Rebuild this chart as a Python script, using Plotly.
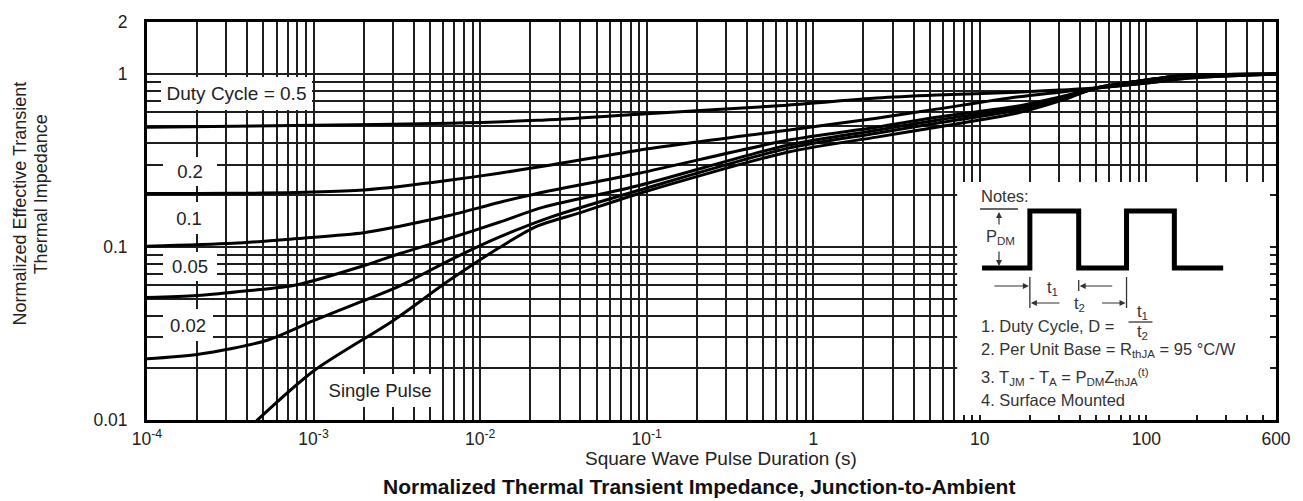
import numpy as np
import plotly.graph_objects as go

# ---------------- data ----------------
t_d05 = [1e-4, 1e-3, 6.5e-3, 2.2e-2, 9e-2, 0.7, 2.4, 5.5, 16.6, 30, 50, 100, 180, 300, 600]
z_d05 = [0.493, 0.506, 0.52, 0.54, 0.586, 0.661, 0.726, 0.756, 0.786, 0.808, 0.83, 0.887, 0.948, 0.974, 1.0]

t_d02 = [1e-4, 2e-4, 5e-4, 1e-3, 2e-3, 3.3e-3, 6.5e-3, 1.3e-2, 2.6e-2, 9e-2, 0.7, 2.4, 5.5, 16.6, 30, 50, 100, 180, 300, 600]
z_d02 = [0.204, 0.204, 0.205, 0.208, 0.214, 0.224, 0.243, 0.267, 0.297, 0.363, 0.474, 0.556, 0.627, 0.736, 0.786, 0.83, 0.887, 0.948, 0.974, 1.0]

t_d01 = [1e-4, 3.3e-4, 8e-4, 2e-3, 3.3e-3, 6.5e-3, 1.3e-2, 2.2e-2, 9e-2, 0.7, 2.4, 5.5, 16.6, 30, 50, 100, 180, 300, 600]
z_d01 = [0.101, 0.105, 0.112, 0.121, 0.132, 0.152, 0.181, 0.204, 0.267, 0.414, 0.493, 0.563, 0.652, 0.736, 0.83, 0.923, 0.987, 0.995, 1.0]

t_d005 = [1e-4, 2e-4, 4e-4, 8e-4, 2e-3, 3.3e-3, 6.5e-3, 1.3e-2, 2.4e-2, 9e-2, 0.7, 2.4, 5.5, 16.6, 30, 50, 100, 180, 300, 600]
z_d005 = [0.051, 0.0524, 0.0558, 0.0606, 0.078, 0.0917, 0.112, 0.139, 0.17, 0.227, 0.388, 0.474, 0.541, 0.635, 0.716, 0.83, 0.923, 0.987, 0.995, 1.0]

t_d002 = [1e-4, 2e-4, 5.2e-4, 1e-3, 2e-3, 3.3e-3, 6.5e-3, 1.3e-2, 2.6e-2, 9e-2, 0.7, 2.4, 5.5, 16.6, 30, 50, 100, 180, 300, 600]
z_d002 = [0.0226, 0.0239, 0.0288, 0.0375, 0.049, 0.0597, 0.0835, 0.114, 0.148, 0.213, 0.372, 0.455, 0.52, 0.618, 0.707, 0.83, 0.923, 0.987, 0.995, 1.0]

t_single = [4.5e-4, 1e-3, 3e-3, 6.5e-3, 1.3e-2, 2.2e-2, 4e-2, 9e-2, 0.7, 2.4, 5.5, 16.6, 30, 50, 100, 180, 300, 600]
z_single = [0.0098, 0.0192, 0.0375, 0.064, 0.099, 0.132, 0.158, 0.204, 0.353, 0.432, 0.493, 0.594, 0.697, 0.83, 0.923, 0.987, 0.995, 1.0]

series = [(t_d05, z_d05), (t_d02, z_d02), (t_d01, z_d01),
          (t_d005, z_d005), (t_d002, z_d002), (t_single, z_single)]

x_major = [1e-4, 1e-3, 1e-2, 1e-1, 1, 10, 100, 600]
x_major_labels = ["10<sup>-4</sup>", "10<sup>-3</sup>", "10<sup>-2</sup>", "10<sup>-1</sup>",
                  "1", "10", "100", "600"]
y_major = [0.01, 0.1, 1, 2]
y_major_labels = ["0.01", "0.1", "1", "2"]

curve_labels = ["Duty Cycle = 0.5", "0.2", "0.1", "0.05", "0.02", "Single Pulse"]

# ---------------- grid tick positions ----------------
x_grid = [k * 10.0 ** n for n in range(-4, 2) for k in range(1, 10)] + [100, 200, 300, 400, 500, 600]
x_text = []
for v in x_grid:
    lab = ""
    for mv, ml in zip(x_major, x_major_labels):
        if abs(v - mv) / mv < 1e-9:
            lab = ml
    x_text.append(lab)

y_grid = [k * 10.0 ** n for n in (-2, -1) for k in range(1, 10)] + [1, 2]
y_text = []
for v in y_grid:
    lab = ""
    for mv, ml in zip(y_major, y_major_labels):
        if abs(v - mv) / mv < 1e-9:
            lab = ml
    y_text.append(lab)

FONT = "Liberation Sans, Arial, Helvetica, sans-serif"
TXT = "#222"

fig = go.Figure()
for t, z in series:
    fig.add_trace(go.Scatter(x=t, y=z, mode="lines",
                             line=dict(color="black", width=3, shape="spline", smoothing=0.8),
                             hoverinfo="skip", showlegend=False))

# plot area in pixels
L, R, T, B = 147, 1280, 22, 420
W, H = 1303, 501


def px(x):
    return (x - L) / (R - L)


def py(y):
    return (B - y) / (B - T)


fig.update_layout(
    width=W, height=H,
    margin=dict(l=L, r=W - R, t=T, b=H - B),
    paper_bgcolor="white", plot_bgcolor="white",
    font=dict(family=FONT, color=TXT),
    showlegend=False,
)
fig.update_xaxes(type="log", range=[-4, np.log10(600)], tickmode="array",
                 tickvals=x_grid, ticktext=x_text, showgrid=True,
                 gridcolor="#1e1e1e", gridwidth=1.6, showline=True, linecolor="black",
                 linewidth=3, mirror=True, ticks="", zeroline=False,
                 tickfont=dict(size=17.5, color=TXT, family=FONT), ticklabelstandoff=1)
fig.update_yaxes(type="log", range=[-2, np.log10(2)], tickmode="array",
                 tickvals=y_grid, ticktext=y_text, showgrid=True,
                 gridcolor="#1e1e1e", gridwidth=1.6, showline=True, linecolor="black",
                 linewidth=3, mirror=True, ticks="", zeroline=False,
                 tickfont=dict(size=17.5, color=TXT, family=FONT), ticklabelstandoff=13)

ann = []
# curve labels with white boxes (center px, center py, box w, box h, font size)
label_boxes = [(236.5, 93.5, 151, 33, 19), (190, 171.5, 54, 29, 18.5), (189, 218, 52, 32, 18.5),
               (190, 266.5, 54, 29, 18.5), (188, 325, 50, 32, 18.5), (381, 390.5, 118, 33, 18.5)]
for text, (cx, cy, bw, bh, fs) in zip(curve_labels, label_boxes):
    ann.append(dict(text=text, x=px(cx), y=py(cy), xref="paper", yref="paper",
                    xanchor="center", yanchor="middle", showarrow=False,
                    bgcolor="white", width=bw, height=bh, borderpad=0, borderwidth=0,
                    font=dict(size=fs, color=TXT, family=FONT)))

# axis titles
ann.append(dict(text="Square Wave Pulse Duration (s)", x=px(723), y=py(458), xref="paper", yref="paper",
                showarrow=False, xanchor="center", yanchor="middle",
                font=dict(size=19, color=TXT, family=FONT)))
ann.append(dict(text="<b>Normalized Thermal Transient Impedance, Junction-to-Ambient</b>",
                x=px(701), y=py(486), xref="paper", yref="paper",
                showarrow=False, xanchor="center", yanchor="middle",
                font=dict(size=21, color="#111", family=FONT)))
ann.append(dict(text="Normalized Effective Transient", x=px(20), y=py(203), xref="paper", yref="paper",
                showarrow=False, xanchor="center", yanchor="middle", textangle=-90,
                font=dict(size=18, color=TXT, family=FONT)))
ann.append(dict(text="Thermal Impedance", x=px(41), y=py(194), xref="paper", yref="paper",
                showarrow=False, xanchor="center", yanchor="middle", textangle=-90,
                font=dict(size=18, color=TXT, family=FONT)))

# notes box content
NC = "#333"
NF = 16.5
notes_text = [("Notes:", 982, 196),
              ("1. Duty Cycle, D =", 982, 326),
              ("2. Per Unit Base = R<sub>thJA</sub> = 95 °C/W", 982, 350),
              ("3. T<sub>JM</sub> - T<sub>A</sub> = P<sub>DM</sub>Z<sub>thJA</sub><sup>(t)</sup>", 982, 377),
              ("4. Surface Mounted", 982, 400)]
for text, x0, y0 in notes_text:
    ann.append(dict(text=text, x=px(x0), y=py(y0), xref="paper", yref="paper",
                    showarrow=False, xanchor="left", yanchor="middle",
                    font=dict(size=NF, color=NC, family=FONT)))
centered = [("P<sub>DM</sub>", 1004, 237), ("t<sub>1</sub>", 1056, 288), ("t<sub>2</sub>", 1083, 304),
            ("t<sub>1</sub>", 1146, 312), ("t<sub>2</sub>", 1146, 332)]
for text, x0, y0 in centered:
    ann.append(dict(text=text, x=px(x0), y=py(y0), xref="paper", yref="paper",
                    showarrow=False, xanchor="center", yanchor="middle",
                    font=dict(size=NF, color=NC, family=FONT)))
# arrows: (head x, head y, tail x, tail y)
arrows = [(1002, 212, 1002, 226), (1002, 266, 1002, 250),
          (1032, 286, 996, 286), (1083, 286, 1117, 286),
          (1034, 303, 1064, 303), (1129, 303, 1104, 303)]
for hx, hy, tx, ty in arrows:
    ann.append(dict(text="", x=px(hx), y=py(hy), xref="paper", yref="paper",
                    showarrow=True, ax=tx - hx, ay=ty - hy, arrowhead=2, arrowsize=1,
                    arrowwidth=1.2, arrowcolor=NC, standoff=0, startstandoff=0))
fig.update_layout(annotations=ann)

shapes = []
shapes.append(dict(type="rect", xref="paper", yref="paper", x0=px(960), x1=px(1274),
                   y0=py(415), y1=py(182), fillcolor="white", line=dict(width=0), layer="above"))
wave = [(985, 268), (1033, 268), (1033, 211), (1082, 211), (1082, 268), (1130, 268),
        (1130, 211), (1178, 211), (1178, 268), (1227, 268)]
path = "M " + " L ".join(f"{px(a):.5f},{py(b):.5f}" for a, b in wave)
shapes.append(dict(type="path", xref="paper", yref="paper", path=path,
                   line=dict(color="black", width=5), layer="above"))
thin = [((983, 209), (1021, 209)), ((1033, 277), (1033, 308)), ((1082, 280), (1082, 291)),
        ((1130, 277), (1130, 308)), ((1132, 322), (1156, 322))]
for (a, b), (c, d) in thin:
    shapes.append(dict(type="line", xref="paper", yref="paper", x0=px(a), y0=py(b), x1=px(c), y1=py(d),
                       line=dict(color=NC, width=1.3), layer="above"))
fig.update_layout(shapes=shapes)

fig.write_html("out.html")
